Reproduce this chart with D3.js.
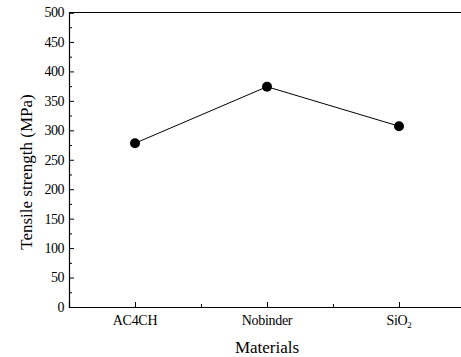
<!DOCTYPE html>
<html>
<head>
<meta charset="utf-8">
<script src="https://cdn.jsdelivr.net/npm/d3@7"></script>
<style>
  body { margin: 0; background: #fff; }
  text { font-family: "Liberation Serif", "Times New Roman", serif; fill: #000; }
</style>
</head>
<body>
<div id="chart"></div>
<script>
const width = 461, height = 357;

const materials = ["AC4CH", "Nobinder", "SiO2"];
const strength = [278, 374, 307];
const yTicks = [0, 50, 100, 150, 200, 250, 300, 350, 400, 450, 500];

const margin = { left: 69, top: 12.5, bottom: 307 };

const svg = d3.select("#chart").append("svg")
    .attr("width", width)
    .attr("height", height);

const x = d3.scaleLinear()
    .domain([0.5, 3.5])
    .range([margin.left, margin.left + 396]);

const y = d3.scaleLinear()
    .domain([0, 500])
    .range([margin.bottom, margin.top]);

// frame: top line
svg.append("line")
    .attr("x1", margin.left).attr("x2", width)
    .attr("y1", y(500)).attr("y2", y(500))
    .attr("stroke", "#000").attr("stroke-width", 1.2);

// y axis, ticks pointing inward
const yAxis = svg.append("g")
    .attr("transform", `translate(${margin.left},0)`)
    .call(d3.axisRight(y).tickValues(yTicks).tickSize(5).tickFormat(""));
yAxis.select(".domain").attr("stroke-width", 1.2);
svg.append("g")
    .attr("transform", `translate(${margin.left},0)`)
    .call(d3.axisRight(y).tickValues(d3.range(25, 500, 50)).tickSize(3).tickFormat(""))
    .select(".domain").remove();

svg.selectAll(".ylabel")
    .data(yTicks)
    .enter().append("text")
    .attr("class", "ylabel")
    .attr("x", margin.left - 5)
    .attr("y", d => y(d))
    .attr("dy", "0.35em")
    .attr("text-anchor", "end")
    .style("font-size", "14px")
    .style("letter-spacing", "-0.5px")
    .text(d => d);

// x axis, ticks pointing inward
const xAxis = svg.append("g")
    .attr("transform", `translate(0,${margin.bottom})`)
    .call(d3.axisTop(x).tickValues([1, 2, 3]).tickSize(5).tickFormat(""));
xAxis.select(".domain").attr("stroke-width", 1.2);
svg.append("g")
    .attr("transform", `translate(0,${margin.bottom})`)
    .call(d3.axisTop(x).tickValues([1.5, 2.5]).tickSize(3).tickFormat(""))
    .select(".domain").remove();

const xl = svg.selectAll(".xlabel")
    .data(materials)
    .enter().append("text")
    .attr("class", "xlabel")
    .attr("x", (d, i) => x(i + 1))
    .attr("y", 325)
    .attr("text-anchor", "middle")
    .style("font-size", "14px")
    .style("letter-spacing", "-0.3px");
xl.each(function (d) {
    const t = d3.select(this);
    if (d === "SiO2") {
        t.append("tspan").text("SiO");
        t.append("tspan").attr("dy", 3).style("font-size", "9px").text("2");
    } else {
        t.text(d);
    }
});

// axis titles
svg.append("text")
    .attr("x", x(2))
    .attr("y", 353)
    .attr("text-anchor", "middle")
    .style("font-size", "17px")
    .text("Materials");

svg.append("text")
    .attr("transform", `translate(32,${172}) rotate(-90)`)
    .attr("text-anchor", "middle")
    .style("font-size", "17px")
    .text("Tensile strength (MPa)");

// data
const line = d3.line()
    .x((d, i) => x(i + 1))
    .y(d => y(d));

svg.append("path")
    .datum(strength)
    .attr("d", line)
    .attr("fill", "none")
    .attr("stroke", "#000")
    .attr("stroke-width", 1);

svg.selectAll(".pt")
    .data(strength)
    .enter().append("circle")
    .attr("class", "pt")
    .attr("cx", (d, i) => x(i + 1))
    .attr("cy", d => y(d))
    .attr("r", 5)
    .attr("fill", "#000");
</script>
</body>
</html>
